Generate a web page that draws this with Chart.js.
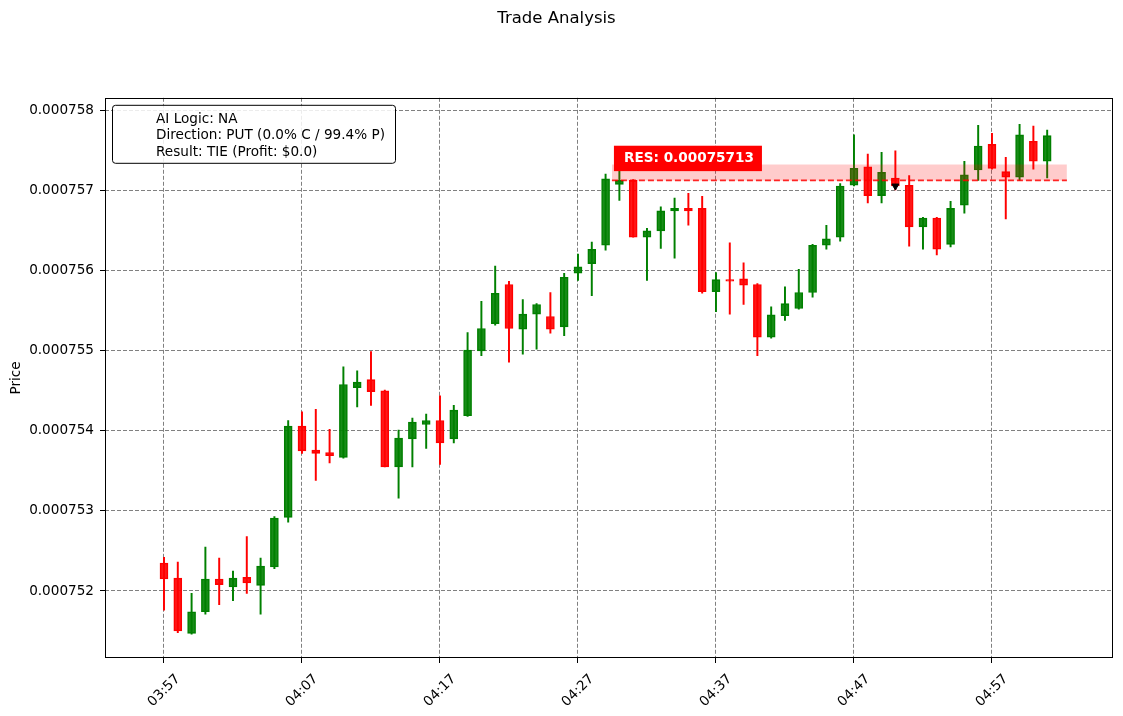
<!DOCTYPE html>
<html>
<head>
<meta charset="utf-8">
<title>Trade Analysis</title>
<script src="https://cdn.jsdelivr.net/npm/chart.js@4/dist/chart.umd.min.js"></script>
<style>
  html, body { margin: 0; padding: 0; background: #fff; }
  #wrap { width: 1123px; height: 716px; }
</style>
</head>
<body>
<div id="wrap"><canvas id="chart" width="1123" height="716"></canvas></div>
<script>
// one candle per minute
var times = ['03:57','03:58','03:59','04:00','04:01','04:02','04:03','04:04','04:05','04:06',
             '04:07','04:08','04:09','04:10','04:11','04:12','04:13','04:14','04:15','04:16',
             '04:17','04:18','04:19','04:20','04:21','04:22','04:23','04:24','04:25','04:26',
             '04:27','04:28','04:29','04:30','04:31','04:32','04:33','04:34','04:35','04:36',
             '04:37','04:38','04:39','04:40','04:41','04:42','04:43','04:44','04:45','04:46',
             '04:47','04:48','04:49','04:50','04:51','04:52','04:53','04:54','04:55','04:56',
             '04:57','04:58','04:59','05:00','05:01'];

var opens = [0.00075235,0.00075216,0.00075147,0.00075174,0.00075215,0.00075205,0.00075217,0.00075207,0.00075230,0.00075292,
             0.00075406,0.00075376,0.00075373,0.00075367,0.00075454,0.00075464,0.00075450,0.00075355,0.00075390,0.00075408,
             0.00075413,0.00075390,0.00075419,0.00075500,0.00075534,0.00075583,0.00075527,0.00075546,0.00075543,0.00075530,
             0.00075597,0.00075609,0.00075632,0.00075708,0.00075713,0.00075642,0.00075650,0.00075675,0.00075678,0.00075678,
             0.00075574,0.00075589,0.00075590,0.00075583,0.00075517,0.00075544,0.00075553,0.00075573,0.00075632,0.00075642,
             0.00075707,0.00075730,0.00075694,0.00075716,0.00075707,0.00075655,0.00075666,0.00075633,0.00075682,0.00075726,
             0.00075758,0.00075724,0.00075717,0.00075762,0.00075737];
var highs = [0.00075242,0.00075236,0.00075197,0.00075255,0.00075241,0.00075225,0.00075268,0.00075241,0.00075293,0.00075413,
             0.00075424,0.00075427,0.00075402,0.00075480,0.00075475,0.00075499,0.00075451,0.00075401,0.00075416,0.00075421,
             0.00075444,0.00075432,0.00075523,0.00075562,0.00075606,0.00075587,0.00075564,0.00075559,0.00075573,0.00075597,
             0.00075621,0.00075636,0.00075721,0.00075726,0.00075714,0.00075653,0.00075680,0.00075691,0.00075697,0.00075693,
             0.00075598,0.00075635,0.00075610,0.00075584,0.00075555,0.00075580,0.00075602,0.00075633,0.00075657,0.00075709,
             0.00075770,0.00075746,0.00075748,0.00075750,0.00075719,0.00075667,0.00075667,0.00075687,0.00075737,0.00075782,
             0.00075772,0.00075742,0.00075783,0.00075781,0.00075776];
var lows = [0.00075176,0.00075148,0.00075146,0.00075171,0.00075183,0.00075188,0.00075197,0.00075171,0.00075228,0.00075286,
            0.00075372,0.00075338,0.00075360,0.00075366,0.00075430,0.00075432,0.00075355,0.00075316,0.00075355,0.00075378,
            0.00075358,0.00075385,0.00075418,0.00075494,0.00075532,0.00075486,0.00075496,0.00075502,0.00075522,0.00075519,
            0.00075588,0.00075569,0.00075626,0.00075688,0.00075642,0.00075588,0.00075628,0.00075616,0.00075657,0.00075572,
            0.00075549,0.00075546,0.00075558,0.00075494,0.00075516,0.00075538,0.00075552,0.00075567,0.00075627,0.00075637,
            0.00075706,0.00075685,0.00075685,0.00075701,0.00075631,0.00075627,0.00075620,0.00075630,0.00075672,0.00075713,
            0.00075727,0.00075665,0.00075713,0.00075727,0.00075716];
var closes = [0.00075215,0.00075150,0.00075174,0.00075215,0.00075208,0.00075216,0.00075210,0.00075231,0.00075291,0.00075406,
              0.00075375,0.00075372,0.00075369,0.00075458,0.00075461,0.00075449,0.00075355,0.00075391,0.00075411,0.00075413,
              0.00075385,0.00075426,0.00075501,0.00075528,0.00075572,0.00075528,0.00075546,0.00075558,0.00075527,0.00075592,
              0.00075605,0.00075627,0.00075715,0.00075713,0.00075642,0.00075650,0.00075675,0.00075678,0.00075675,0.00075574,
              0.00075589,0.00075587,0.00075582,0.00075517,0.00075545,0.00075559,0.00075573,0.00075632,0.00075640,0.00075706,
              0.00075728,0.00075694,0.00075723,0.00075706,0.00075655,0.00075666,0.00075627,0.00075678,0.00075720,0.00075756,
              0.00075728,0.00075717,0.00075770,0.00075737,0.00075769];

var xTickIdx = [0, 10, 20, 30, 40, 50, 60];
var yTicks = [0.000752, 0.000753, 0.000754, 0.000755, 0.000756, 0.000757, 0.000758];

// resistance zone and entry
var resLevel = 0.00075713;
var resBandTop = 0.00075733;
var resFrom = 32.46;
var resTo = 65.43;
var entryIdx = 53;
var entryPrice = 0.00075706;

var infoLines = ['AI Logic: NA', 'Direction: PUT (0.0% C / 99.4% P)', 'Result: TIE (Profit: $0.0)'];

var FONT = 'DejaVu Sans';

function isUp(i) { return closes[i] >= opens[i]; }

var wickData = [], bodyData = [], wickCol = [], bodyFill = [], bodyEdge = [];
for (var i = 0; i < times.length; i++) {
    wickData.push({ x: i, y: [lows[i], highs[i]] });
    bodyData.push({ x: i, y: [opens[i], closes[i]] });
    wickCol.push(isUp(i) ? 'rgb(0,128,0)' : 'rgb(255,0,0)');
    bodyFill.push(isUp(i) ? 'rgba(0,128,0,0.9)' : 'rgba(255,0,0,0.9)');
    bodyEdge.push(isUp(i) ? 'rgb(0,128,0)' : 'rgb(255,0,0)');
}

var extras = {
    id: 'extras',
    afterDatasetsDraw: function(chart) {
        var ctx = chart.ctx, xs = chart.scales.x, ys = chart.scales.y;
        // RES label
        var txt = 'RES: ' + resLevel.toFixed(8);
        ctx.save();
        ctx.font = 'bold 13.6px "' + FONT + '"';
        var tw = ctx.measureText(txt).width;
        var x0 = xs.getPixelForValue(resFrom) + 2;
        var yc = ys.getPixelForValue(resLevel) - 22;
        ctx.fillStyle = '#ff0000';
        ctx.fillRect(x0, yc - 12.7, tw + 18, 25.4);
        ctx.fillStyle = '#ffffff';
        ctx.textBaseline = 'middle';
        ctx.fillText(txt, x0 + 10, yc + 0.5);
        ctx.restore();
    },
    afterDraw: function(chart) {
        var ctx = chart.ctx, a = chart.chartArea;
        ctx.save();
        // axes frame
        ctx.strokeStyle = '#000';
        ctx.lineWidth = 1;
        ctx.strokeRect(Math.round(a.left) + 0.5, Math.round(a.top) + 0.5,
                       Math.round(a.right - a.left) - 1, Math.round(a.bottom - a.top) - 1);
        // info box
        var bx = a.left + 7.5, by = a.top + 7.5, bw = 283, bh = 58, r = 3;
        ctx.beginPath();
        ctx.moveTo(bx + r, by);
        ctx.arcTo(bx + bw, by, bx + bw, by + bh, r);
        ctx.arcTo(bx + bw, by + bh, bx, by + bh, r);
        ctx.arcTo(bx, by + bh, bx, by, r);
        ctx.arcTo(bx, by, bx + bw, by, r);
        ctx.closePath();
        ctx.fillStyle = 'rgba(255,255,255,0.85)';
        ctx.fill();
        ctx.strokeStyle = '#000';
        ctx.stroke();
        ctx.fillStyle = '#000';
        ctx.font = '13.6px "' + FONT + '"';
        ctx.textBaseline = 'middle';
        for (var k = 0; k < infoLines.length; k++) {
            ctx.fillText(infoLines[k], a.left + 51, a.top + 21.5 + k * 16.6);
        }
        ctx.restore();
    }
};

var ctx = document.getElementById('chart').getContext('2d');
window.tradeChart = new Chart(ctx, {
    type: 'bar',
    data: {
        datasets: [
            { type: 'line', label: 'entry', data: [{ x: entryIdx, y: entryPrice }], showLine: false,
              pointStyle: 'triangle', rotation: 180, pointRadius: 4, backgroundColor: '#000', borderColor: '#000',
              borderWidth: 1, order: -1 },
            { type: 'line', label: 'res', data: [{ x: resFrom, y: resLevel }, { x: resTo, y: resLevel }],
              borderColor: 'rgba(255,0,0,0.85)', borderWidth: 1.8, borderDash: [6, 3], pointRadius: 0, fill: false, order: 0 },
            { type: 'line', label: 'zone', data: [{ x: resFrom, y: resBandTop }, { x: resTo, y: resBandTop }],
              borderWidth: 0, pointRadius: 0, fill: { value: resLevel }, backgroundColor: 'rgba(255,0,0,0.2)', order: 1 },
            { label: 'body', data: bodyData, backgroundColor: bodyFill, borderColor: bodyEdge, borderWidth: 1,
              borderSkipped: false, barThickness: 8, grouped: false, order: 2 },
            { label: 'wick', data: wickData, backgroundColor: wickCol, borderWidth: 0,
              barThickness: 1.3, grouped: false, order: 3 }
        ]
    },
    options: {
        responsive: false,
        animation: false,
        events: [],
        layout: { padding: { left: 0, right: 10, top: 0, bottom: 0 } },
        plugins: {
            legend: { display: false },
            tooltip: { enabled: false },
            title: { display: true, text: 'Trade Analysis', color: '#000',
                     font: { family: FONT, size: 16.5, weight: 'normal' },
                     padding: { top: 9, bottom: 69 } }
        },
        scales: {
            x: {
                type: 'linear', offset: false, min: -4.275, max: 68.77,
                afterBuildTicks: function(s) { s.ticks = xTickIdx.map(function(v) { return { value: v }; }); },
                afterFit: function(s) { s.height = 58; },
                grid: { offset: false, color: '#808080', lineWidth: 1, tickColor: '#000', tickLength: 5 },
                border: { display: false, dash: [4, 2] },
                ticks: { autoSkip: false, minRotation: 45, maxRotation: 45, labelOffset: 14, padding: 8,
                         color: '#000', font: { family: FONT, size: 13.6 },
                         callback: function(v) { return times[v]; } }
            },
            y: {
                min: 0.0007511625, max: 0.0007581625, beginAtZero: false,
                afterBuildTicks: function(s) { s.ticks = yTicks.map(function(v) { return { value: v }; }); },
                afterFit: function(s) { s.width = 105; },
                grid: { color: '#808080', lineWidth: 1, tickColor: '#000', tickLength: 5 },
                border: { display: false, dash: [4, 2] },
                title: { display: true, text: 'Price', color: '#000', font: { family: FONT, size: 13.6 },
                         padding: { top: 8, bottom: 0 } },
                ticks: { color: '#000', padding: 6, font: { family: FONT, size: 13.6 },
                         callback: function(v) { return v.toFixed(6); } }
            }
        }
    },
    plugins: [extras]
});
</script>
</body>
</html>
